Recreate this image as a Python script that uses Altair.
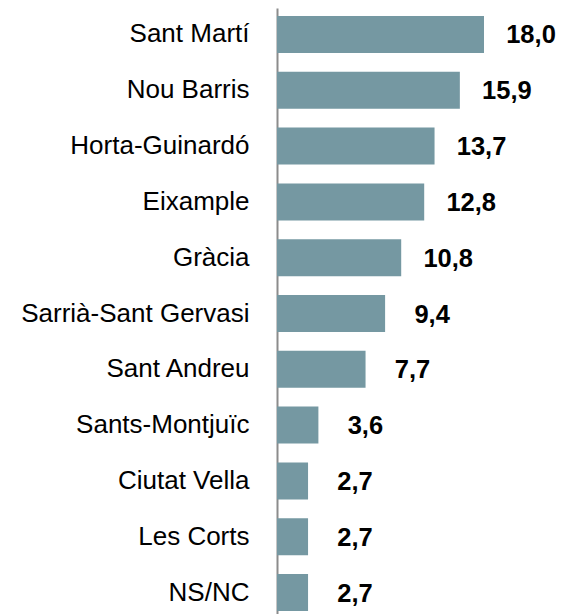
import altair as alt
import pandas as pd

districts = ["Sant Martí", "Nou Barris", "Horta-Guinardó", "Eixample", "Gràcia",
             "Sarrià-Sant Gervasi", "Sant Andreu", "Sants-Montjuïc", "Ciutat Vella",
             "Les Corts", "NS/NC"]
values = [18.0, 15.9, 13.7, 12.8, 10.8, 9.4, 7.7, 3.6, 2.7, 2.7, 2.7]

df = pd.DataFrame({"district": districts, "value": values})
df["label"] = [f"{v:.1f}".replace(".", ",") for v in values]

FONT = "Liberation Sans, Arial, sans-serif"

y = alt.Y("district:N", sort=districts, title=None,
          scale=alt.Scale(paddingInner=0.337, paddingOuter=0.143),
          axis=alt.Axis(domainColor="#8c8c8c", domainWidth=2, ticks=False, tickSize=0,
                        labelPadding=28, labelFontSize=26, labelColor="#000000",
                        labelFont=FONT, labelLimit=400, grid=False))
x = alt.X("value:Q", title=None, axis=None, scale=alt.Scale(domain=[0, 20]))

bars = alt.Chart(df).mark_bar(color="#7598a2").encode(x=x, y=y)
labels = alt.Chart(df).mark_text(align="center", baseline="middle", dx=47, dy=1,
                                 fontWeight="bold", fontSize=25.5, font=FONT,
                                 color="#000000").encode(x=x, y=y, text="label:N")

chart = (bars + labels).properties(
    width=230, height=611,
    autosize=alt.AutoSizeParams(type="none"),
    padding={"left": 269, "top": 0, "right": 49, "bottom": 0},
).configure_view(stroke=None)

chart.save("out.html", embed_options={"renderer": "svg", "actions": False})
